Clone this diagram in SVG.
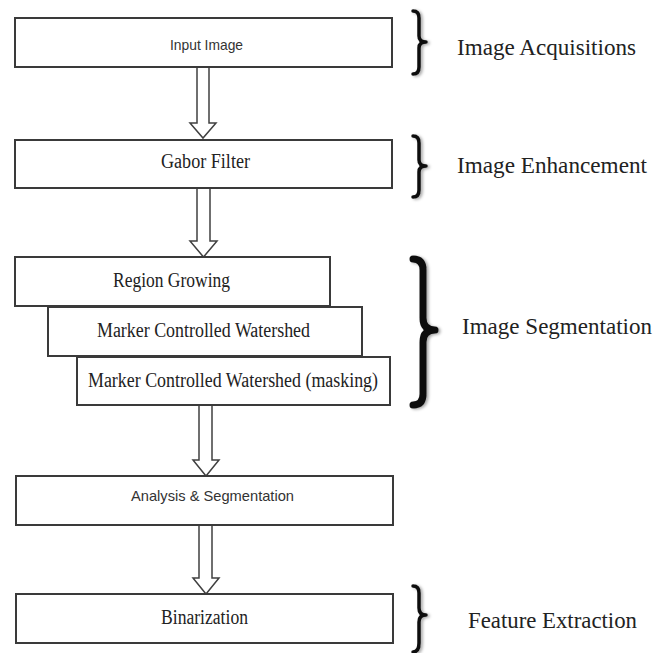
<svg xmlns="http://www.w3.org/2000/svg" width="666" height="653" viewBox="0 0 666 653">
  <defs>
    <filter id="shadow" x="-50%" y="-10%" width="200%" height="120%">
      <feDropShadow dx="2" dy="1" stdDeviation="1.5" flood-color="#000" flood-opacity="0.35"/>
    </filter>
    <style>
      .box { fill: #ffffff; stroke: #3a3a3a; stroke-width: 2; }
      .arrow { fill: #ffffff; stroke: #404040; stroke-width: 1.5; stroke-linejoin: miter; }
      .serif { font-family: "Liberation Serif", "Times New Roman", serif; fill: #222; text-anchor: middle; }
      .sans { font-family: "Liberation Sans", Arial, sans-serif; fill: #333; text-anchor: middle; font-size: 15px; }
      .node { font-size: 20px; }
      .label { font-size: 24px; text-anchor: start; }
      .brace { fill: none; stroke: #111; stroke-width: 3.5; stroke-linecap: round; stroke-linejoin: round; filter: url(#shadow); }
      .brace-thick { stroke-width: 7; }
    </style>
  </defs>
  <rect x="0" y="0" width="666" height="653" fill="#ffffff"/>

  <g id="connectors">
    <polygon class="arrow" points="197,67 209,67 209,123 216,123 203,138 190,123 197,123"/>
    <polygon class="arrow" points="197,188 210,188 210,241 217,241 203.5,257 190,241 197,241"/>
    <polygon class="arrow" points="199,405 212,405 212,460 219,460 206,476 193,460 199,460"/>
    <polygon class="arrow" points="199,525 212,525 212,578 219,578 206,594 193,578 199,578"/>
  </g>

  <g id="node-input">
    <rect class="box" x="15" y="18" width="377" height="49"/>
    <text class="sans" x="206.5" y="50" textLength="73" lengthAdjust="spacingAndGlyphs">Input Image</text>
  </g>
  <g id="node-gabor">
    <rect class="box" x="15" y="140" width="377" height="48"/>
    <text class="serif node" x="205.5" y="168" textLength="89" lengthAdjust="spacingAndGlyphs">Gabor Filter</text>
  </g>
  <g id="node-region">
    <rect class="box" x="15" y="257" width="315" height="49"/>
    <text class="serif node" x="171.5" y="287" textLength="117" lengthAdjust="spacingAndGlyphs">Region Growing</text>
  </g>
  <g id="node-mcw">
    <rect class="box" x="48" y="307" width="314" height="49"/>
    <text class="serif node" x="203.5" y="337" textLength="213" lengthAdjust="spacingAndGlyphs">Marker Controlled Watershed</text>
  </g>
  <g id="node-mcw-masking">
    <rect class="box" x="77" y="357" width="313" height="48"/>
    <text class="serif node" x="233" y="387" textLength="290" lengthAdjust="spacingAndGlyphs">Marker Controlled Watershed (masking)</text>
  </g>
  <g id="node-analysis">
    <rect class="box" x="16" y="476" width="377" height="49"/>
    <text class="sans" x="212.5" y="501" textLength="163" lengthAdjust="spacingAndGlyphs">Analysis &amp; Segmentation</text>
  </g>
  <g id="node-binarization">
    <rect class="box" x="16" y="594" width="377" height="49"/>
    <text class="serif node" x="204.5" y="624" textLength="87" lengthAdjust="spacingAndGlyphs">Binarization</text>
  </g>

  <g id="braces">
    <path class="brace" d="M413,11 Q419,11 419,18 L419,36 Q419,42 426,42 Q419,42 419,48 L419,67 Q419,74 413,74"/>
    <path class="brace" d="M413,136 Q419,136 419,143 L419,160 Q419,166 426,166 Q419,166 419,172 L419,190 Q419,197 413,197"/>
    <path class="brace brace-thick" d="M413,259 Q423,259 423,270 L423,318 Q423,330 435,330 Q423,330 423,342 L423,394 Q423,405 413,405"/>
    <path class="brace" d="M413,586 Q419,586 419,593 L419,608 Q419,615 426,615 Q419,615 419,622 L419,643 Q419,652 413,652"/>
  </g>

  <g id="stage-labels">
    <text class="serif label" x="457" y="55" textLength="179" lengthAdjust="spacingAndGlyphs">Image Acquisitions</text>
    <text class="serif label" x="457" y="173" textLength="190" lengthAdjust="spacingAndGlyphs">Image Enhancement</text>
    <text class="serif label" x="462" y="334" textLength="190" lengthAdjust="spacingAndGlyphs">Image Segmentation</text>
    <text class="serif label" x="468" y="628" textLength="169" lengthAdjust="spacingAndGlyphs">Feature Extraction</text>
  </g>
</svg>
